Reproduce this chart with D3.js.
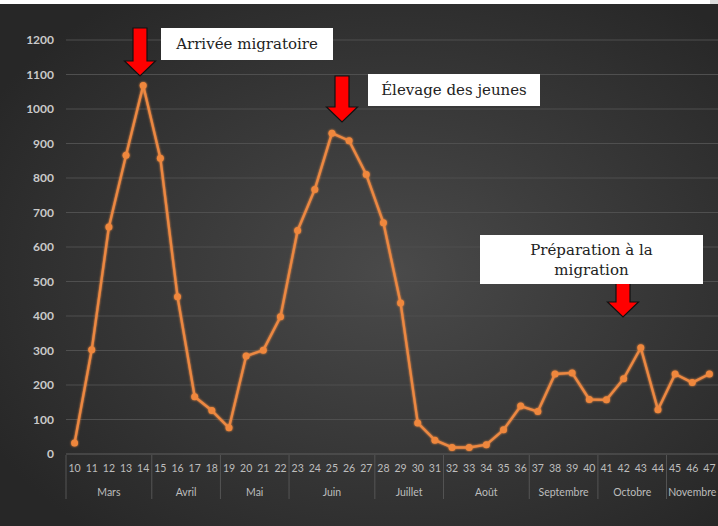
<!DOCTYPE html>
<html>
<head>
<meta charset="utf-8">
<script src="https://cdn.jsdelivr.net/npm/d3@7"></script>
<style>
  body { margin: 0; background: #fff; }
  svg { display: block; }
</style>
</head>
<body>
<div id="chart"></div>
<script>
// semaines et effectifs
const weeks = [10,11,12,13,14,15,16,17,18,19,20,21,22,23,24,25,26,27,28,29,30,31,32,33,34,35,36,37,38,39,40,41,42,43,44,45,46,47]
const counts = [32,302,658,866,1068,857,456,166,126,76,284,301,398,648,767,930,908,810,670,438,90,40,19,19,27,70,139,123,232,235,158,157,218,308,128,232,207,232]
const months = ["Mars","Avril","Mai","Juin","Juillet","Août","Septembre","Octobre","Novembre"]
const monthStart = [10,15,19,23,28,32,37,41,45]
const monthEnd = [14,18,22,27,31,36,40,44,47]
const yTicks = [0,100,200,300,400,500,600,700,800,900,1000,1100,1200]

// annotations
const notes = [
  { lines: ["Arrivée migratoire"] },
  { lines: ["Élevage des jeunes"] },
  { lines: ["Préparation à la", "migration"] }
]

const W = 718, H = 526
const svg = d3.select("#chart").append("svg")
  .attr("width", W)
  .attr("height", H)

const defs = svg.append("defs")
const grad = defs.append("radialGradient")
  .attr("id", "bg")
  .attr("cx", "55%").attr("cy", "52%").attr("r", "65%")
grad.append("stop").attr("offset", "0%").attr("stop-color", "#4a4a4a")
grad.append("stop").attr("offset", "100%").attr("stop-color", "#272727")

const glow = defs.append("filter").attr("id", "glow")
  .attr("x", "-5%").attr("y", "-5%").attr("width", "110%").attr("height", "110%")
glow.append("feGaussianBlur").attr("in", "SourceGraphic").attr("stdDeviation", 1.2).attr("result", "b")
const merge = glow.append("feMerge")
merge.append("feMergeNode").attr("in", "b")
merge.append("feMergeNode").attr("in", "SourceGraphic")

svg.append("rect").attr("width", W).attr("height", H).attr("fill", "url(#bg)")
svg.append("rect").attr("width", W).attr("height", 4).attr("fill", "#ffffff")
svg.append("rect").attr("x", 710).attr("width", 8).attr("height", 4).attr("fill", "#dcdcdc")

const x = d3.scaleBand()
  .domain(weeks)
  .range([66, 718])

const y = d3.scaleLinear()
  .domain([0, 1200])
  .range([454, 40])

// grille horizontale
svg.append("g")
  .selectAll("line")
  .data(yTicks)
  .join("line")
  .attr("x1", 66).attr("x2", 718)
  .attr("y1", d => y(d)).attr("y2", d => y(d))
  .attr("stroke", d => d === 0 ? "#5e5e5e" : "#4f4f4f")
  .attr("stroke-width", 1)

// axe vertical
const yAxis = svg.append("g")
  .attr("transform", "translate(58,0)")
  .call(d3.axisLeft(y).tickValues(yTicks).tickFormat(d3.format("d")).tickSize(0).tickPadding(4))
yAxis.select(".domain").remove()
yAxis.selectAll("text")
  .attr("fill", "#c9c9c9")
  .style("font-family", "Lato, 'Open Sans', sans-serif")
  .style("font-weight", "bold")
  .style("font-size", "12px")

// axe horizontal : numéros de semaine
const xAxis = svg.append("g")
  .attr("transform", "translate(0,454)")
  .call(d3.axisBottom(x).tickSize(0).tickPadding(11))
xAxis.select(".domain").remove()
xAxis.selectAll("text")
  .attr("fill", "#bdbdbd")
  .style("font-family", "Lato, 'Open Sans', sans-serif")
  .style("font-size", "10.5px")

// séparateurs de mois
const seps = [weeks[0]].concat(monthEnd.slice(0, -1).map(d => d + 1))
svg.append("g")
  .selectAll("line")
  .data(seps)
  .join("line")
  .attr("x1", d => x(d)).attr("x2", d => x(d))
  .attr("y1", 455).attr("y2", 499)
  .attr("stroke", "#555")

svg.append("g")
  .selectAll("text")
  .data(months)
  .join("text")
  .attr("x", (d, i) => (x(monthStart[i]) + x(monthEnd[i]) + x.bandwidth()) / 2)
  .attr("y", 496)
  .attr("text-anchor", "middle")
  .attr("fill", "#bdbdbd")
  .style("font-family", "Lato, 'Open Sans', sans-serif")
  .style("font-size", "10.5px")
  .text(d => d)

// courbe
const cx = d => x(d) + x.bandwidth() / 2
const pts = weeks.map((w, i) => [w, counts[i]])
const plot = svg.append("g").attr("filter", "url(#glow)")
plot.append("path")
  .datum(pts)
  .attr("fill", "none")
  .attr("stroke", "#ec8842")
  .attr("stroke-width", 2.4)
  .attr("stroke-linejoin", "round")
  .attr("d", d3.line().x(d => cx(d[0])).y(d => y(d[1])))
plot.selectAll("circle")
  .data(pts)
  .join("circle")
  .attr("cx", d => cx(d[0]))
  .attr("cy", d => y(d[1]))
  .attr("r", 3.5)
  .attr("fill", "#ef873c")

// flèches rouges
function arrow(g, tipX, tipY, topY) {
  const hw = 15.5, sw = 7, hh = 15
  g.append("polygon")
    .attr("points", [
      [tipX - sw, topY], [tipX + sw, topY], [tipX + sw, tipY - hh], [tipX + hw, tipY - hh],
      [tipX, tipY], [tipX - hw, tipY - hh], [tipX - sw, tipY - hh]
    ].map(p => p.join(",")).join(" "))
    .attr("fill", "#ff0000")
    .attr("stroke", "#111")
    .attr("stroke-width", 1.2)
}

const ann = svg.append("g")
arrow(ann, 140, 76, 28)
arrow(ann, 342, 122, 76)
arrow(ann, 623, 317, 270)

const boxes = [
  { x: 161, y: 28, w: 172, h: 32 },
  { x: 368, y: 74, w: 172, h: 32 },
  { x: 480, y: 235, w: 223, h: 49 }
]
boxes.forEach((b, i) => {
  ann.append("rect")
    .attr("x", b.x).attr("y", b.y).attr("width", b.w).attr("height", b.h)
    .attr("fill", "#ffffff")
  const t = ann.append("text")
    .attr("text-anchor", "middle")
    .attr("fill", "#222")
    .style("font-family", "'DejaVu Serif', serif")
    .style("font-size", "15px")
  const n = notes[i].lines.length
  notes[i].lines.forEach((l, j) => {
    t.append("tspan")
      .attr("x", b.x + b.w / 2)
      .attr("y", b.y + b.h / 2 + 5 + (j - (n - 1) / 2) * 20)
      .text(l)
  })
})
</script>
</body>
</html>
